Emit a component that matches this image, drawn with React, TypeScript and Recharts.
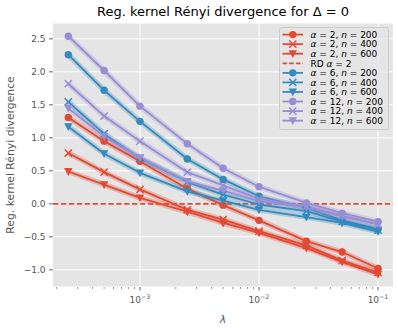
import React from 'react';
import { LineChart, Line, XAxis, YAxis, CartesianGrid, ReferenceLine, Legend } from 'recharts';

// ---- data ----
const lambdas = [2.5e-4, 5e-4, 1e-3, 2.5e-3, 5e-3, 1e-2, 2.5e-2, 5e-2, 1e-1];

const a2n200 = [1.31, 0.95, 0.645, 0.23, -0.02, -0.25, -0.565, -0.73, -0.98];
const a2n400 = [0.77, 0.48, 0.22, -0.09, -0.24, -0.415, -0.63, -0.86, -1.04];
const a2n600 = [0.49, 0.29, 0.09, -0.12, -0.29, -0.44, -0.67, -0.88, -1.07];
const a6n200 = [2.26, 1.72, 1.25, 0.68, 0.37, 0.115, -0.06, -0.25, -0.38];
const a6n400 = [1.545, 1.06, 0.69, 0.33, 0.14, -0.01, -0.11, -0.27, -0.4];
const a6n600 = [1.17, 0.76, 0.47, 0.19, 0.05, -0.09, -0.2, -0.29, -0.42];
const a12n200 = [2.54, 2.02, 1.48, 0.91, 0.54, 0.26, 0.015, -0.14, -0.27];
const a12n400 = [1.82, 1.33, 0.95, 0.48, 0.28, 0.075, -0.04, -0.18, -0.31];
const a12n600 = [1.45, 1.02, 0.7, 0.34, 0.2, 0.04, -0.05, -0.19, -0.31];

const rdAlpha2 = 0;

const yTicks = [-1.0, -0.5, 0.0, 0.5, 1.0, 1.5, 2.0, 2.5];
const xMajorTicks = [1e-3, 1e-2, 1e-1];
const xMinorMult = [2, 3, 4, 5, 6, 7, 8, 9];
const xMinorDecades = [1e-4, 1e-3, 1e-2];

// ---- styling / config ----
const RED = '#E24A33';
const BLUE = '#348ABD';
const PURPLE = '#988ED5';
const FONT = '"DejaVu Sans", sans-serif';

type Marker = 'o' | 'x' | 'v';
const series: { key: string; alpha: string; n: string; color: string; marker: Marker; values: number[] }[] = [
  { key: 'a2n200', alpha: '2', n: '200', color: RED, marker: 'o', values: a2n200 },
  { key: 'a2n400', alpha: '2', n: '400', color: RED, marker: 'x', values: a2n400 },
  { key: 'a2n600', alpha: '2', n: '600', color: RED, marker: 'v', values: a2n600 },
  { key: 'a6n200', alpha: '6', n: '200', color: BLUE, marker: 'o', values: a6n200 },
  { key: 'a6n400', alpha: '6', n: '400', color: BLUE, marker: 'x', values: a6n400 },
  { key: 'a6n600', alpha: '6', n: '600', color: BLUE, marker: 'v', values: a6n600 },
  { key: 'a12n200', alpha: '12', n: '200', color: PURPLE, marker: 'o', values: a12n200 },
  { key: 'a12n400', alpha: '12', n: '400', color: PURPLE, marker: 'x', values: a12n400 },
  { key: 'a12n600', alpha: '12', n: '600', color: PURPLE, marker: 'v', values: a12n600 },
];

const data = lambdas.map((lam, i) => {
  const row: Record<string, number> = { lam };
  series.forEach((s) => {
    row[s.key] = s.values[i];
  });
  return row;
});

const xTicks = [
  ...xMinorDecades.flatMap((d) => xMinorMult.map((m) => +(m * d).toPrecision(3))),
  ...xMajorTicks,
].sort((a, b) => a - b);

const drawMarker = (m: Marker, cx: number, cy: number, color: string, key?: string | number) => {
  if (m === 'o') return <circle key={key} cx={cx} cy={cy} r={3.7} fill={color} />;
  if (m === 'x')
    return (
      <path
        key={key}
        d={`M${cx - 3.6},${cy - 3.6}L${cx + 3.6},${cy + 3.6}M${cx - 3.6},${cy + 3.6}L${cx + 3.6},${cy - 3.6}`}
        stroke={color}
        strokeWidth={1.5}
        fill="none"
      />
    );
  return <path key={key} d={`M${cx - 4.2},${cy - 3.4}L${cx + 4.2},${cy - 3.4}L${cx},${cy + 4.4}Z`} fill={color} />;
};

const XTick = (props: any) => {
  const { x, y, payload } = props;
  const lg = Math.log10(payload.value);
  const isMajor = Math.abs(lg - Math.round(lg)) < 1e-6;
  return (
    <g>
      <line x1={x} x2={x} y1={y} y2={y + (isMajor ? 3.5 : 2)} stroke="#555555" strokeWidth={isMajor ? 0.9 : 0.6} />
      {isMajor && (
        <text x={x} y={y + 16} textAnchor="middle" fill="#555555" fontSize={9} fontFamily={FONT}>
          10
          <tspan dy={-3.8} fontSize={6.3}>
            {'\u2212' + Math.abs(Math.round(lg))}
          </tspan>
        </text>
      )}
    </g>
  );
};

const legendItems = [
  ...series.slice(0, 3).map((s) => ({ ...s, dashed: false, rd: false })),
  { key: 'rd', alpha: '2', n: '', color: RED, marker: null as any, values: [], dashed: true, rd: true },
  ...series.slice(3).map((s) => ({ ...s, dashed: false, rd: false })),
];

const LegendBox = () => (
  <svg width={110} height={103} style={{ display: 'block' }}>
    <rect x={0.5} y={0.5} width={109} height={102} rx={2.5} fill="#E5E5E5" fillOpacity={0.8} stroke="#CCCCCC" strokeWidth={1} />
    {legendItems.map((it, i) => {
      const cy = 7.6 + i * 9.56;
      return (
        <g key={it.key}>
          <line
            x1={3.5}
            x2={24}
            y1={cy}
            y2={cy}
            stroke={it.color}
            strokeWidth={1.8}
            strokeDasharray={it.dashed ? '4.5 2.2' : undefined}
          />
          {!it.rd && drawMarker(it.marker, 13.8, cy, it.color)}
          <text x={31.5} y={cy + 3.3} fontSize={9} fontFamily={FONT} fill="#000">
            {it.rd ? (
              <>
                RD <tspan fontStyle="italic">α</tspan> = 2
              </>
            ) : (
              <>
                <tspan fontStyle="italic">α</tspan>
                {` = ${it.alpha}, `}
                <tspan fontStyle="italic">n</tspan>
                {` = ${it.n}`}
              </>
            )}
          </text>
        </g>
      );
    })}
  </svg>
);

export default function App() {
  const lines: React.ReactNode[] = [];
  series.forEach((s, idx) => {
    lines.push(
      <Line
        key={s.key + '-band'}
        dataKey={s.key}
        type="linear"
        stroke={s.color}
        strokeWidth={5.5}
        strokeOpacity={0.3}
        strokeLinejoin="round"
        dot={false}
        activeDot={false}
        legendType="none"
        isAnimationActive={false}
      />
    );
    lines.push(
      <Line
        key={s.key}
        dataKey={s.key}
        type="linear"
        stroke={s.color}
        strokeWidth={1.8}
        strokeLinejoin="round"
        dot={(p: any) => drawMarker(s.marker, p.cx, p.cy, s.color, `${s.key}-${p.index}`)}
        activeDot={false}
        isAnimationActive={false}
      />
    );
    if (idx === 2) {
      lines.push(
        <ReferenceLine
          key="rd"
          y={rdAlpha2}
          stroke={RED}
          strokeWidth={1.6}
          strokeDasharray="5.5 2.4"
        />
      );
    }
  });

  return (
    <div style={{ position: 'absolute', left: 0, top: 0, width: 398, height: 328, background: '#fff' }}>
      <LineChart width={398} height={328} data={data} margin={{ top: 23, right: 5, bottom: 0, left: 0 }}>
        <CartesianGrid vertical={false} stroke="#FFFFFF" strokeWidth={1} fill="#E5E5E5" fillOpacity={1} />
        {xMajorTicks.map((t) => (
          <ReferenceLine key={'vg' + t} x={t} stroke="#FFFFFF" strokeWidth={1} zIndex={-50} />
        ))}
        <XAxis
          dataKey="lam"
          type="number"
          scale="log"
          domain={[1.86e-4, 0.1336]}
          allowDataOverflow
          ticks={xTicks}
          interval={0}
          tick={<XTick />}
          tickLine={false}
          tickSize={0}
          tickMargin={0}
          axisLine={false}
          height={41}
        />
        <YAxis
          type="number"
          domain={[-1.26, 2.74]}
          allowDataOverflow
          ticks={yTicks}
          interval={0}
          width={53}
          axisLine={false}
          tickLine={{ stroke: '#555555', strokeWidth: 0.9 }}
          tickSize={4}
          tickMargin={3.5}
          tick={{ fill: '#555555', fontSize: 9, fontFamily: FONT }}
          tickFormatter={(v: number) => v.toFixed(1).replace('-', '\u2212')}
        />
        {lines}
        <Legend
          layout="vertical"
          align="center"
          verticalAlign="middle"
          content={() => <LegendBox />}
          wrapperStyle={{ left: 279, top: 27, width: 110, height: 103 }}
        />
      </LineChart>
      <svg
        width={398}
        height={328}
        style={{ position: 'absolute', left: 0, top: 0, pointerEvents: 'none' }}
      >
        <text x={223} y={15.5} textAnchor="middle" fontSize={13} fontFamily={FONT} fill="#000">
          Reg. kernel Rényi divergence for Δ = 0
        </text>
        <text
          x={0}
          y={0}
          transform="translate(14,155) rotate(-90)"
          textAnchor="middle"
          fontSize={10.8}
          fontFamily={FONT}
          fill="#555555"
        >
          Reg. kernel Rényi divergence
        </text>
        <text x={223} y={323} textAnchor="middle" fontSize={10.8} fontFamily={FONT} fontStyle="italic" fill="#555555">
          λ
        </text>
      </svg>
    </div>
  );
}
